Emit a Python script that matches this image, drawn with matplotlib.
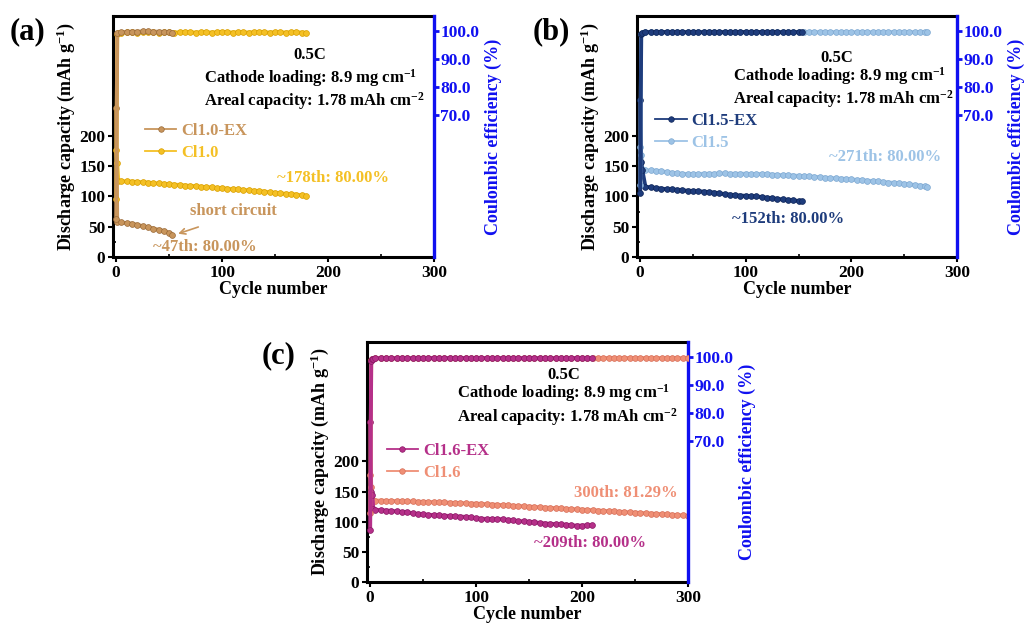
import numpy as np
import matplotlib
matplotlib.use('Agg')
import matplotlib.pyplot as plt
from matplotlib.ticker import FixedLocator

plt.rcParams['font.family'] = ['Liberation Serif', 'DejaVu Serif']
plt.rcParams['font.weight'] = 'bold'
plt.rcParams['mathtext.fontset'] = 'custom'
plt.rcParams['mathtext.rm'] = 'Liberation Serif:bold'
plt.rcParams['mathtext.it'] = 'Liberation Serif:bold'
plt.rcParams['mathtext.bf'] = 'Liberation Serif:bold'
plt.rcParams['mathtext.default'] = 'regular'

# ---------------- data ----------------
# Panel (a)
a_ex_cyc = [0, 1, 5, 10, 15, 20, 25, 30, 35, 40, 45, 50, 53]
a_ex_cap = [246, 58, 57, 56, 55, 53, 51, 49, 47, 45, 43, 40, 36]
a_ex_ce = [33, 99.2, 99.6, 99.7, 99.8, 99.8, 99.9, 99.9, 99.8, 99.8, 99.7, 99.6, 99.5]

a_cyc = [0, 1, 2] + list(range(5, 180, 5)) + [179]
a_cap = [177, 155, 126,
         125, 125, 124.5, 124, 123.5, 123, 122, 121.5, 121, 120,
         119.5, 119, 118, 117.5, 117, 116, 115.5, 115, 114, 113.5,
         113, 112, 111.5, 111, 110, 109.5, 109, 108, 107, 106,
         105, 104.5, 104, 103, 102,
         101]
a_ce = [40, 98.8, 99.3,
        99.5, 99.6, 99.6, 99.5, 99.6, 99.7, 99.6, 99.5, 99.6, 99.6,
        99.5, 99.6, 99.7, 99.6, 99.5, 99.6, 99.6, 99.5, 99.6, 99.7,
        99.6, 99.5, 99.6, 99.6, 99.5, 99.6, 99.7, 99.6, 99.5, 99.6,
        99.6, 99.5, 99.6, 99.6, 99.5,
        99.4]

# Panel (b)
b_ex_cyc = [0, 1, 2] + list(range(5, 155, 5)) + [153]
b_ex_cap = [259, 157, 144,
            116, 115, 114, 113, 112, 111.5, 111, 110, 109.5, 109,
            108.5, 108, 107, 106.5, 105, 104, 103, 102, 101.5, 101,
            100.5, 100, 99, 98, 97, 96, 95, 94.5, 93.5, 92.5,
            92]
b_ex_ce = [42, 98.9, 99.4,
           99.6, 99.7, 99.6, 99.7, 99.7, 99.6, 99.7, 99.7, 99.6, 99.7,
           99.7, 99.6, 99.7, 99.7, 99.6, 99.7, 99.7, 99.6, 99.7, 99.7,
           99.6, 99.7, 99.7, 99.6, 99.7, 99.7, 99.6, 99.7, 99.6, 99.7,
           99.6]

b_cyc = [0, 1, 2] + list(range(5, 275, 5)) + [272]
b_cap = [182, 169, 145,
         143, 143, 142.5, 142, 140, 139, 138, 137.5, 137, 137,
         137, 137.5, 137.5, 137.5, 138, 138, 137.5, 137.5, 137.5, 137.5,
         137, 137, 137, 137, 136, 135.5, 135, 135, 134.5, 134,
         133.5, 133, 132.5, 132, 131, 130.5, 130, 129.5, 129, 128,
         127.5, 127, 126, 125.5, 125, 124, 123, 122.5, 122, 121,
         120, 119, 118, 117,
         116]
b_ce = [45, 99.0, 99.4,
        99.6, 99.6, 99.7, 99.6, 99.6, 99.7, 99.6, 99.6, 99.7, 99.6,
        99.6, 99.7, 99.6, 99.6, 99.7, 99.6, 99.6, 99.7, 99.6, 99.6,
        99.7, 99.6, 99.6, 99.7, 99.6, 99.6, 99.7, 99.6, 99.6, 99.7,
        99.6, 99.6, 99.7, 99.6, 99.6, 99.7, 99.6, 99.6, 99.7, 99.6,
        99.6, 99.7, 99.6, 99.6, 99.7, 99.6, 99.6, 99.7, 99.6, 99.6,
        99.7, 99.6, 99.6, 99.7,
        99.6]

# Panel (c)
c_ex_cyc = [0, 1, 2, 3] + list(range(5, 210, 5)) + [209]
c_ex_cap = [265, 150, 145, 121,
            120, 119, 118.5, 118, 117, 116, 115.5, 114, 113, 112,
            111.5, 111, 110.5, 110, 109.5, 109, 108.5, 108, 107, 106,
            105, 104.5, 104.5, 104.5, 104, 103, 102, 101, 100.5, 100,
            99, 98, 97, 96.5, 96, 95.5, 95, 94, 93.5, 93.5, 94,
            94]
c_ex_ce = [38, 98.6, 99.2, 99.4,
           99.6, 99.6, 99.7, 99.6, 99.6, 99.7, 99.6, 99.6, 99.7, 99.6,
           99.6, 99.7, 99.6, 99.6, 99.7, 99.6, 99.6, 99.7, 99.6, 99.6,
           99.7, 99.6, 99.6, 99.7, 99.6, 99.6, 99.7, 99.6, 99.6, 99.7,
           99.6, 99.6, 99.7, 99.6, 99.6, 99.7, 99.6, 99.6, 99.7, 99.6, 99.6,
           99.6]

c_cyc = [0, 1, 2] + list(range(5, 305, 5))
c_cap = [178, 158, 136,
         135, 135, 134.5, 134.5, 134, 134, 133.5, 133.5, 133, 133,
         132.5, 132.5, 132, 132, 131.5, 131, 131, 130.5, 130, 130,
         129.5, 129, 128.5, 128, 127.5, 127, 126.5, 126, 125.5, 125,
         124.5, 124, 123.5, 123, 122.5, 122, 121.5, 121, 120.5, 120,
         119.5, 119, 118.5, 118, 117.5, 117, 116.5, 116, 115.5, 115,
         114.5, 114, 113.5, 113, 112.5, 112, 111.5, 111, 110.5, 110]
c_ce = [44, 99.0, 99.4,
        99.6, 99.6, 99.7, 99.6, 99.6, 99.7, 99.6, 99.6, 99.7, 99.6,
        99.6, 99.7, 99.6, 99.6, 99.7, 99.6, 99.6, 99.7, 99.6, 99.6,
        99.7, 99.6, 99.6, 99.7, 99.6, 99.6, 99.7, 99.6, 99.6, 99.7,
        99.6, 99.6, 99.7, 99.6, 99.6, 99.7, 99.6, 99.6, 99.7, 99.6,
        99.6, 99.7, 99.6, 99.6, 99.7, 99.6, 99.6, 99.7, 99.6, 99.6,
        99.7, 99.6, 99.6, 99.7, 99.6, 99.6, 99.7, 99.6, 99.6, 99.7]

x_ticks = [0, 100, 200, 300]
cap_ticks = [0, 50, 100, 150, 200]
ce_ticks = [70, 80, 90, 100]

# ---------------- figure ----------------
fig = plt.figure(figsize=(10.24, 6.26), dpi=100)
BLUE = '#1010f0'

def panel(rect, tag, tag_xy, series, notes, legend_anchor):
    ax = fig.add_axes(rect)
    ax2 = ax.twinx()
    handles = []
    for (cyc, cap, ce, color, edge, name) in series:
        h, = ax.plot(cyc, cap, '-o', color=color, lw=2.8, ms=4.2,
                     mec=edge, mew=0.5, label=name, zorder=3)
        ax2.plot(cyc, ce, '-o', color=color, lw=2.8, ms=4.2,
                 mec=edge, mew=0.5, zorder=3)
        handles.append(h)
    ax.set_xlim(-3, 300)
    ax.set_ylim(0, 398)
    ax2.set_ylim(19.3, 105.4)
    ax.set_xticks(x_ticks)
    ax.xaxis.set_minor_locator(FixedLocator([50, 150, 250]))
    ax.set_yticks(cap_ticks)
    ax.yaxis.set_minor_locator(FixedLocator([25, 75, 125, 175]))
    ax2.set_yticks(ce_ticks)
    ax2.set_yticklabels([f'{v:.1f}' for v in ce_ticks])
    for lab in ax.get_xticklabels() + ax.get_yticklabels():
        lab.set_fontweight('bold')
    ax.tick_params(axis='both', which='major', labelsize=12.5, length=3.5,
                   width=1.5, direction='out', pad=2)
    ax.tick_params(axis='both', which='minor', length=2, width=1.2,
                   direction='in')
    ax2.tick_params(axis='y', which='major', labelsize=12.5, length=3.5,
                    width=2, direction='out', colors=BLUE, pad=1)
    for lab in ax2.get_yticklabels():
        lab.set_fontweight('bold')
    for s in ['left', 'top', 'bottom']:
        ax.spines[s].set_linewidth(2.2)
        ax.spines[s].set_color('black')
        ax2.spines[s].set_visible(False)
    ax.spines['right'].set_visible(False)
    ax2.spines['right'].set_color(BLUE)
    ax2.spines['right'].set_linewidth(2.4)
    ax.set_xlabel('Cycle number', fontsize=13, fontweight='bold', labelpad=0)
    ax.set_ylabel('Discharge capacity (mAh g$^{-1}$)', fontsize=13,
                  fontweight='bold', labelpad=2)
    ax2.set_ylabel('Coulombic efficiency (%)', fontsize=13, fontweight='bold',
                   color=BLUE, labelpad=4)
    leg = ax2.legend(handles=handles[::-1], loc='center left',
                     bbox_to_anchor=legend_anchor, frameon=False,
                     fontsize=12, handlelength=1.9, handletextpad=0.3,
                     labelspacing=0.35, numpoints=1, borderpad=0,
                     labelcolor='linecolor')
    for t in leg.get_texts():
        t.set_fontweight('bold')
    for lh in leg.get_lines():
        lh.set_linewidth(1.3)
        lh.set_markersize(4)
    ax.text(notes['c'][0], notes['c'][1], '0.5C', transform=ax.transAxes,
            ha='center', va='center', fontsize=12, fontweight='bold')
    ax.text(notes['load'][0], notes['load'][1],
            'Cathode loading: 8.9 mg cm$^{-1}$', transform=ax.transAxes,
            ha='left', va='center', fontsize=12, fontweight='bold')
    ax.text(notes['areal'][0], notes['areal'][1],
            'Areal capacity: 1.78 mAh cm$^{-2}$', transform=ax.transAxes,
            ha='left', va='center', fontsize=12, fontweight='bold')
    for (tx, ty, txt, col) in notes['extra']:
        ax.text(tx, ty, txt, transform=ax.transAxes, ha='left', va='center',
                fontsize=12, fontweight='bold', color=col)
    fig.text(tag_xy[0], tag_xy[1], tag, fontsize=22, fontweight='bold',
             ha='left', va='center')
    return ax, ax2

W, H = 1024, 626
def rect(l, t, r, b):
    return [l / W, 1 - b / H, (r - l) / W, (b - t) / H]

# colours
col_a_ex, edge_a_ex = '#C8955C', '#9A6A38'
col_a, edge_a = '#F4C025', '#D9A000'
col_b_ex, edge_b_ex = '#1E3C7C', '#0E2558'
col_b, edge_b = '#9DC3E6', '#7FA9D2'
col_c_ex, edge_c_ex = '#B53089', '#8A1865'
col_c, edge_c = '#EF8F75', '#D8705A'

ax_a, _ = panel(rect(113, 16, 434, 257), '(a)', (10 / W, 1 - 32 / H),
                [(a_cyc, a_cap, a_ce, col_a, edge_a, 'Cl1.0'),
                 (a_ex_cyc, a_ex_cap, a_ex_ce, col_a_ex, edge_a_ex, 'Cl1.0-EX')],
                {'c': (0.614, 0.838), 'load': (0.283, 0.743),
                 'areal': (0.283, 0.648),
                 'extra': [(0.511, 0.328, '~178th: 80.00%', col_a),
                           (0.24, 0.19, 'short circuit', col_a_ex),
                           (0.125, 0.041, '~47th: 80.00%', col_a_ex)]},
                (0.073, 0.478))
ax_a.annotate('', xy=(56, 37), xytext=(80, 51),
              arrowprops=dict(arrowstyle='->', color=col_a_ex, lw=1.2))

ax_b, _ = panel(rect(637, 16, 957, 257), '(b)', (533 / W, 1 - 32 / H),
                [(b_cyc, b_cap, b_ce, col_b, edge_b, 'Cl1.5'),
                 (b_ex_cyc, b_ex_cap, b_ex_ce, col_b_ex, edge_b_ex, 'Cl1.5-EX')],
                {'c': (0.625, 0.826), 'load': (0.30, 0.75),
                 'areal': (0.30, 0.656),
                 'extra': [(0.60, 0.415, '~271th: 80.00%', col_b),
                           (0.297, 0.158, '~152th: 80.00%', col_b_ex)]},
                (0.03, 0.52))

ax_c, _ = panel(rect(367, 342, 688, 582), '(c)', (262 / W, 1 - 356 / H),
                [(c_cyc, c_cap, c_ce, col_c, edge_c, 'Cl1.6'),
                 (c_ex_cyc, c_ex_cap, c_ex_ce, col_c_ex, edge_c_ex, 'Cl1.6-EX')],
                {'c': (0.614, 0.862), 'load': (0.28, 0.788),
                 'areal': (0.28, 0.688),
                 'extra': [(0.645, 0.37, '300th: 81.29%', col_c),
                           (0.52, 0.163, '~209th: 80.00%', col_c_ex)]},
                (0.035, 0.5))

fig.savefig('out.png', dpi=100)
